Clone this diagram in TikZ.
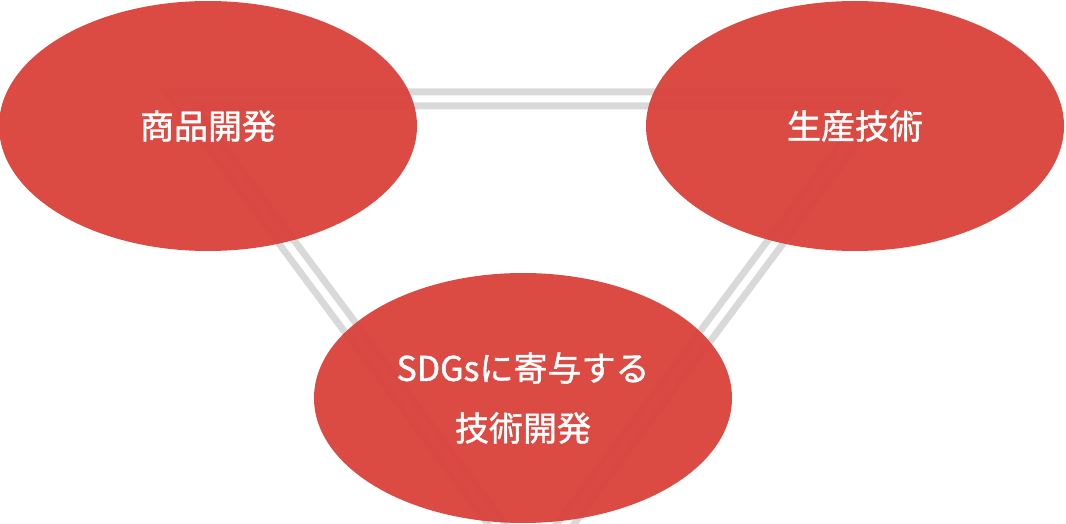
\documentclass[tikz,border=0pt]{standalone}
\usepackage{fontspec}
\setmainfont{Noto Sans CJK JP}[FakeBold=1.2]
\definecolor{ered}{HTML}{D9413A}
\definecolor{lgray}{HTML}{D9D9D9}
\begin{document}
\begin{tikzpicture}[x=1pt,y=-1pt,
  blob/.style={ellipse,fill=ered,fill opacity=0.95,text opacity=1,text=white,minimum width=418pt,minimum height=250pt,inner sep=0pt,align=center,font=\fontsize{34}{60}\selectfont},
  link/.style={draw=lgray,line width=20pt}]
\usetikzlibrary{shapes.geometric}
\useasboundingbox (0,0) rectangle (1066,524);
\coordinate (p1) at (180,99);
\coordinate (p2) at (882,99);
\coordinate (p3) at (531,570);
\begin{scope}
\clip (0,0) rectangle (1066,524);
\draw[draw=lgray,line width=21pt,line join=miter] (p1) -- (p2) -- (p3) -- cycle;
\draw[draw=white,line width=7pt,line join=miter] (p1) -- (p2) -- (p3) -- cycle;
\end{scope}
\node[blob] (a) at (208,126) {商品開発};
\node[blob] (b) at (855,126) {生産技術};
\node[blob] (c) at (523,398) {SDGsに寄与する\\技術開発};
\end{tikzpicture}
\end{document}
